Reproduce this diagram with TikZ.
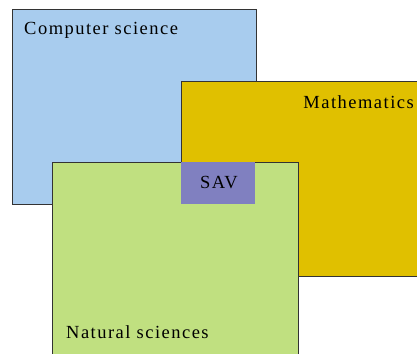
\documentclass[tikz,border=0pt]{standalone}
\usepackage{fontspec}
\setmainfont{Liberation Serif}
\newfontfamily\labelfont[LetterSpace=8]{Liberation Serif}
\usepackage{xcolor}
\usepackage{tikz}

\definecolor{csblue}{RGB}{168,204,238}
\definecolor{mathyellow}{RGB}{224,192,0}
\definecolor{natgreen}{RGB}{192,224,128}
\definecolor{savpurple}{RGB}{128,128,192}

\tikzset{
  field/.style={draw=black!80, line width=1pt, anchor=north west, inner sep=0pt},
  fieldlabel/.style={inner sep=0pt, font=\labelfont\fontsize{18.5}{22}\selectfont}
}

\begin{document}
\begin{tikzpicture}[x=1pt,y=-1pt]
\useasboundingbox (0,0) rectangle (417,353);
\clip (0,0) rectangle (417,353);

\node[field, fill=csblue, minimum width=244pt, minimum height=195pt] (cs) at (12,9) {};
\node[field, fill=mathyellow, minimum width=260pt, minimum height=195pt] (math) at (181,81) {};
\node[field, fill=natgreen, minimum width=246pt, minimum height=220pt] (nat) at (52,162) {};
\node[anchor=north west, fill=savpurple, inner sep=0pt, minimum width=74pt, minimum height=42pt] (sav) at (181,162) {};

\node[fieldlabel, anchor=base west] (cslabel) at (24,35) {Computer science};
\node[fieldlabel, anchor=base east] (mathlabel) at (414,108) {Mathematics};
\node[fieldlabel, anchor=base] (savlabel) at (219,188) {SAV};
\node[fieldlabel, anchor=base west] (natlabel) at (66,338) {Natural sciences};
\end{tikzpicture}
\end{document}
